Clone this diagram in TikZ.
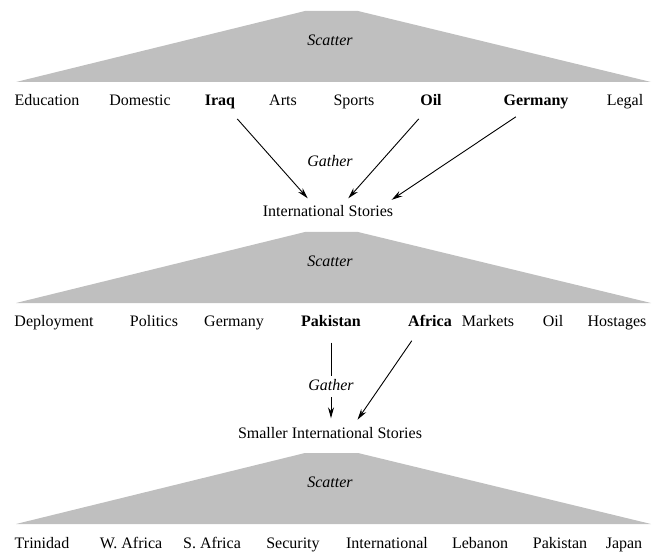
\documentclass[tikz,border=0pt]{standalone}
\usepackage{fontspec}
\setmainfont{Liberation Serif}
\usetikzlibrary{arrows.meta}
\newcommand{\tsz}{\fontsize{16}{19}\selectfont}

\begin{document}
\begin{tikzpicture}[x=1pt, y=-1pt, font=\tsz,
    trap/.style={fill=black!25},
    lab/.style={inner sep=1pt, text height=11pt, text depth=4pt},
    hot/.style={lab, font=\tsz\bfseries},
    act/.style={lab, font=\tsz\itshape},
    arr/.style={-{Stealth[length=11pt, width=6pt]}, line width=0.9pt, shorten <=11pt, shorten >=8pt}]
    \useasboundingbox (0,0) rectangle (656,556);
    \foreach \t/\n in {11/sc1, 232/sc2, 453/sc3} {
      \fill[trap] (16,\t+71) -- (305,\t) -- (358,\t) -- (651,\t+71) -- cycle;
      \node[act] (\n) at (330,\t+31) {Scatter};
    }
    \node[lab] (edu)    at (47,102)  {Education};
    \node[lab] (dom)    at (140,102) {Domestic};
    \node[hot] (iraq)   at (220,102) {Iraq};
    \node[lab] (arts)   at (283,102) {Arts};
    \node[lab] (sports) at (354,102) {Sports};
    \node[hot] (oil)    at (431,102) {Oil};
    \node[hot] (ger)    at (536,102) {Germany};
    \node[lab] (legal)  at (625,102) {Legal};
    \node[act] (ga1) at (330,163) {Gather};
    \node[lab] (is)  at (328,213) {International Stories};
    \node[lab] (dep)  at (54,323)  {Deployment};
    \node[lab] (pol)  at (154,323) {Politics};
    \node[lab] (ger2) at (234,323) {Germany};
    \node[hot] (pak)  at (331,323) {Pakistan};
    \node[hot] (afr)  at (430,323) {Africa};
    \node[lab] (mkt)  at (488,323) {Markets};
    \node[lab] (oil2) at (553,323) {Oil};
    \node[lab] (host) at (617,323) {Hostages};
    \node[lab] (sis) at (330,435) {Smaller International Stories};
    \node[lab] (trin) at (42,545)  {Trinidad};
    \node[lab] (waf)  at (131,545) {W. Africa};
    \node[lab] (saf)  at (212,545) {S. Africa};
    \node[lab] (sec)  at (293,545) {Security};
    \node[lab] (intl) at (387,545) {International};
    \node[lab] (leb)  at (480,545) {Lebanon};
    \node[lab] (pak3) at (560,545) {Pakistan};
    \node[lab] (jap)  at (624,545) {Japan};
    \draw[arr] ([xshift=10pt]iraq.south) -- ([xshift=-15pt]is.north);
    \draw[arr] ([xshift=-5pt]oil.south) -- ([xshift=15pt]is.north);
    \draw[arr] ([xshift=-11pt]ger.south) -- ([xshift=57pt]is.north);
    \draw[arr] (pak.south) -- node[act, pos=0.58, fill=white, inner sep=3pt] (ga2) {Gather} (pak.south |- sis.north);
    \draw[arr] ([xshift=-12pt]afr.south) -- ([xshift=23pt]sis.north);
\end{tikzpicture}
\end{document}
